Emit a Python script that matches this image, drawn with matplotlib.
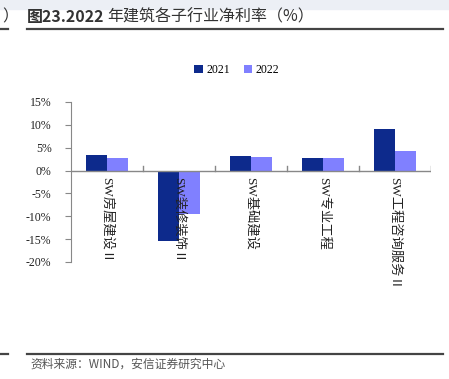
import numpy as np
import matplotlib
matplotlib.use("Agg")
from matplotlib import pyplot as plt
from matplotlib.patches import Rectangle
from matplotlib.lines import Line2D

categories = ["SW房屋建设Ⅱ", "SW装修装饰Ⅱ", "SW基础建设", "SW专业工程", "SW工程咨询服务Ⅱ"]
years = ["2021", "2022"]
v2021 = [3.4, -15.5, 3.1, 2.8, 9.1]
v2022 = [2.8, -9.4, 3.0, 2.7, 4.2]
yticks = [15, 10, 5, 0, -5, -10, -15, -20]

c2021 = "#0d2a8c"
c2022 = "#8080ff"
serif = ["Liberation Serif", "Noto Sans CJK SC"]
cjk = ["Noto Sans CJK SC", "DejaVu Sans"]

fig = plt.figure(figsize=(4.49, 3.79), dpi=100)
W, H = 449, 379

# top gray band
fig.patches.append(Rectangle((0, 1 - 9 / H), 1, 9 / H, transform=fig.transFigure,
                             color="#eceff5", zorder=0))

# title (bold figure number, then regular text) + lines
t1 = fig.text(27 / W, 1 - 17 / H, "图23.2022", family=cjk, fontsize=11.5,
              weight="bold", color="#333333", va="center", ha="left")
fig.canvas.draw()
bb = t1.get_window_extent()
fig.text(bb.x1 / W + 3 / W, 1 - 17 / H, "年建筑各子行业净利率（%）", family=cjk,
         fontsize=11.5, color="#333333", va="center", ha="left")
fig.text(2 / W, 1 - 17 / H, "）", family=cjk, fontsize=11.5, color="#333333",
         va="center", ha="left")
for y in (29, 354):
    fig.add_artist(Line2D([27 / W, 443 / W], [1 - y / H, 1 - y / H], color="#444444", lw=1.6))
    fig.add_artist(Line2D([0, 8 / W], [1 - y / H, 1 - y / H], color="#444444", lw=1.6))
fig.text(30 / W, 1 - 364 / H, "资料来源：WIND，安信证券研究中心", family=cjk,
         fontsize=8.5, color="#555555", va="center", ha="left", style="italic")

ax = fig.add_axes([71 / W, 1 - 262 / H, 360 / W, 160 / H])
x = np.arange(len(categories))
bw = 0.29
ax.bar(x - bw / 2, v2021, width=bw, color=c2021, label=years[0], zorder=2)
ax.bar(x + bw / 2, v2022, width=bw, color=c2022, label=years[1], zorder=2)
ax.set_xlim(-0.5, len(categories) - 0.5)
ax.set_ylim(-20, 15)

ax.axhline(0, color="#888888", lw=1, zorder=3)
bounds = np.arange(len(categories) + 1) - 0.5
for b in bounds[1:]:
    ax.plot([b, b], [0, 1.1], color="#888888", lw=1, zorder=3)

for s in ("top", "right", "bottom"):
    ax.spines[s].set_visible(False)
ax.spines["left"].set_color("#888888")
ax.set_xticks([])
ax.set_yticks(yticks)
ax.set_yticklabels([f"{t}%" for t in yticks], family=serif, fontsize=8.5, color="#222222")
ax.tick_params(axis="y", length=4, color="#888888", pad=10)

for xi, lab in zip(x, categories):
    ax.text(xi, -1.3, lab, rotation=270, ha="center", va="top", family=serif,
            fontsize=9.5, color="#222222", zorder=4)

fig.legend(loc="center", bbox_to_anchor=(237 / W, 1 - 70 / H), ncol=2, frameon=False,
           prop={"family": serif, "size": 8.5}, handlelength=0.7, handleheight=0.7,
           handletextpad=0.3, columnspacing=1.2)

fig.savefig("out.png", dpi=100)
